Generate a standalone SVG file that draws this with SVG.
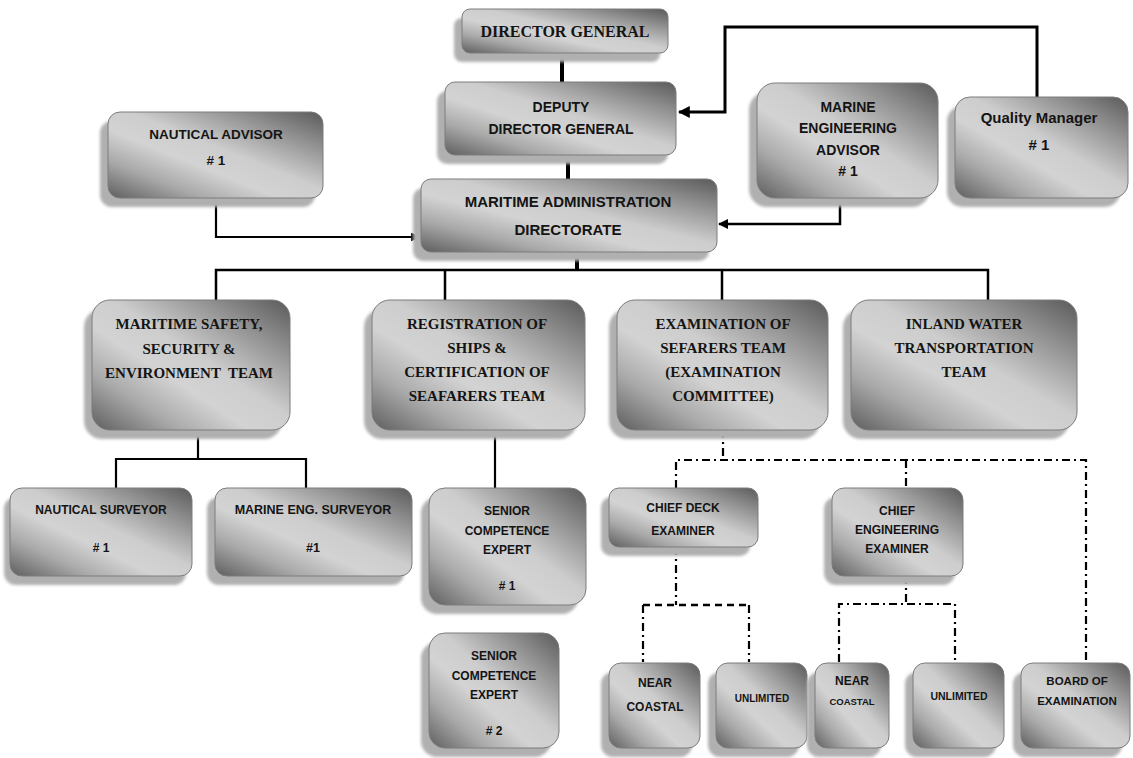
<svg xmlns="http://www.w3.org/2000/svg" width="1133" height="758" viewBox="0 0 1133 758">
<defs>
<linearGradient id="g" x1="1" y1="0" x2="0" y2="1">
<stop offset="0" stop-color="#5a5a5a"/>
<stop offset="0.2" stop-color="#8e8e8e"/>
<stop offset="0.45" stop-color="#cdcdcd"/>
<stop offset="0.6" stop-color="#d3d3d3"/>
<stop offset="0.78" stop-color="#a9a9a9"/>
<stop offset="1" stop-color="#5e5e5e"/>
</linearGradient>
<filter id="blur" x="-10%" y="-10%" width="120%" height="120%"><feGaussianBlur stdDeviation="1.5"/></filter>
<marker id="arr" viewBox="0 0 10 10" refX="9" refY="5" markerWidth="4" markerHeight="4" orient="auto" markerUnits="strokeWidth"><path d="M0,0 L10,5 L0,10 z" fill="#000"/></marker>
<style>
.sh{fill:#b0b0b0;filter:url(#blur)}
.bx{fill:url(#g);stroke:#7c7c7c;stroke-width:1}
.s{font-family:"Liberation Serif",serif;font-weight:bold;font-size:15px;fill:#141414;text-anchor:middle}
.a{font-family:"Liberation Sans",Arial,sans-serif;font-weight:bold;fill:#141414;text-anchor:middle}
.ln{fill:none;stroke:#000;stroke-width:2.2}
.th{fill:none;stroke:#000;stroke-width:4}
.dd{fill:none;stroke:#000;stroke-width:2.2;stroke-dasharray:8 4 2 4}
.da{fill:none;stroke:#000;stroke-width:2.5;stroke-dasharray:7 5}
</style>
</defs>
<rect width="1133" height="758" fill="#fff"/>
<g id="connectors">
<path class="th" d="M562,53 V82"/>
<path class="th" d="M568,155 V179"/>
<path class="ln" style="stroke-width:3" d="M1037,97 V27 H725 V112 H679" marker-end="url(#arr)"/>
<path class="ln" d="M216,198 V237 H419" marker-end="url(#arr)"/>
<path class="ln" style="stroke-width:2.5" d="M840,198 V224 H719" marker-end="url(#arr)"/>
<path class="th" d="M577,252 V270"/>
<path class="ln" style="stroke-width:2.5" d="M216,300 V270 H988 V300 M445,270 V300 M722,270 V300"/>
<path class="ln" d="M198,430 V459 M116,488 V459 H306 V488"/>
<path class="ln" d="M495,430 V488"/>
<path class="dd" d="M723,430 V460"/>
<path class="dd" d="M676,488 V460 H1086 V662"/>
<path class="dd" d="M906,460 V488"/>
<path class="dd" d="M676,547 V605"/>
<path class="da" d="M643,605 H749"/>
<path class="dd" d="M643,605 V662 M749,605 V662"/>
<path class="dd" d="M906,576 V604"/>
<path class="dd" d="M839,662 V604 H955 V662"/>
</g>
<g id="director-general">
<rect class="sh" x="454" y="18" width="206" height="44" rx="8"/>
<rect class="bx" x="462" y="9" width="206" height="44" rx="8"/>
<text class="s" style="font-size:16px" x="565" y="37">DIRECTOR GENERAL</text>
</g>
<g id="deputy-director-general">
<rect class="sh" x="437" y="91" width="231" height="73" rx="10"/>
<rect class="bx" x="445" y="82" width="231" height="73" rx="10"/>
<text class="a" style="font-size:14px" x="561" y="112">DEPUTY</text>
<text class="a" style="font-size:14px" x="561" y="134">DIRECTOR GENERAL</text>
</g>
<g id="nautical-advisor">
<rect class="sh" x="100" y="121" width="215" height="86" rx="12"/>
<rect class="bx" x="108" y="112" width="215" height="86" rx="12"/>
<text class="a" style="font-size:13.5px" x="216" y="139">NAUTICAL ADVISOR</text>
<text class="a" style="font-size:13.5px" x="216" y="165"># 1</text>
</g>
<g id="maritime-administration-directorate">
<rect class="sh" x="413" y="188" width="296" height="73" rx="10"/>
<rect class="bx" x="421" y="179" width="296" height="73" rx="10"/>
<text class="a" style="font-size:15px" x="568" y="207">MARITIME ADMINISTRATION</text>
<text class="a" style="font-size:15px" x="568" y="235">DIRECTORATE</text>
</g>
<g id="marine-engineering-advisor">
<rect class="sh" x="749" y="92" width="181" height="115" rx="18"/>
<rect class="bx" x="757" y="83" width="181" height="115" rx="18"/>
<text class="a" style="font-size:14px" x="848" y="112">MARINE</text>
<text class="a" style="font-size:14px" x="848" y="133">ENGINEERING</text>
<text class="a" style="font-size:14px" x="848" y="155">ADVISOR</text>
<text class="a" style="font-size:14px" x="848" y="176"># 1</text>
</g>
<g id="quality-manager">
<rect class="sh" x="947" y="106" width="173" height="101" rx="15"/>
<rect class="bx" x="955" y="97" width="173" height="101" rx="15"/>
<text class="a" style="font-size:15px" x="1039" y="123">Quality Manager</text>
<text class="a" style="font-size:15px" x="1039" y="150"># 1</text>
</g>
<g id="maritime-safety-team">
<rect class="sh" x="84" y="309" width="198" height="130" rx="18"/>
<rect class="bx" x="92" y="300" width="198" height="130" rx="18"/>
<text class="s" x="189" y="329">MARITIME SAFETY,</text>
<text class="s" x="189" y="354">SECURITY &amp;</text>
<text class="s" x="189" y="378" style="white-space:pre">ENVIRONMENT  TEAM</text>
</g>
<g id="registration-team">
<rect class="sh" x="364" y="309" width="213" height="130" rx="18"/>
<rect class="bx" x="372" y="300" width="213" height="130" rx="18"/>
<text class="s" x="477" y="329">REGISTRATION OF</text>
<text class="s" x="477" y="353">SHIPS &amp;</text>
<text class="s" x="477" y="377">CERTIFICATION OF</text>
<text class="s" x="477" y="401">SEAFARERS TEAM</text>
</g>
<g id="examination-team">
<rect class="sh" x="609" y="309" width="211" height="130" rx="18"/>
<rect class="bx" x="617" y="300" width="211" height="130" rx="18"/>
<text class="s" x="723" y="329">EXAMINATION OF</text>
<text class="s" x="723" y="353">SEFARERS TEAM</text>
<text class="s" x="723" y="377">(EXAMINATION</text>
<text class="s" x="723" y="401">COMMITTEE)</text>
</g>
<g id="inland-water-team">
<rect class="sh" x="843" y="309" width="226" height="130" rx="18"/>
<rect class="bx" x="851" y="300" width="226" height="130" rx="18"/>
<text class="s" x="964" y="329">INLAND WATER</text>
<text class="s" x="964" y="353">TRANSPORTATION</text>
<text class="s" x="964" y="377">TEAM</text>
</g>
<g id="nautical-surveyor">
<rect class="sh" x="4" y="497" width="182" height="88" rx="12"/>
<rect class="bx" x="10" y="488" width="182" height="88" rx="12"/>
<text class="a" style="font-size:12px" x="101" y="514">NAUTICAL SURVEYOR</text>
<text class="a" style="font-size:12px" x="101" y="552"># 1</text>
</g>
<g id="marine-eng-surveyor">
<rect class="sh" x="207" y="497" width="197" height="88" rx="12"/>
<rect class="bx" x="215" y="488" width="197" height="88" rx="12"/>
<text class="a" style="font-size:12.5px" x="313" y="514">MARINE ENG. SURVEYOR</text>
<text class="a" style="font-size:12.5px" x="313" y="552">#1</text>
</g>
<g id="senior-competence-expert-1">
<rect class="sh" x="421" y="497" width="157" height="117" rx="16"/>
<rect class="bx" x="429" y="488" width="157" height="117" rx="16"/>
<text class="a" style="font-size:12px" x="507" y="515">SENIOR</text>
<text class="a" style="font-size:12px" x="507" y="535">COMPETENCE</text>
<text class="a" style="font-size:12px" x="507" y="554">EXPERT</text>
<text class="a" style="font-size:12px" x="507" y="590"># 1</text>
</g>
<g id="chief-deck-examiner">
<rect class="sh" x="601" y="497" width="149" height="59" rx="10"/>
<rect class="bx" x="609" y="488" width="149" height="59" rx="10"/>
<text class="a" style="font-size:12px" x="683" y="512">CHIEF DECK</text>
<text class="a" style="font-size:12px" x="683" y="535">EXAMINER</text>
</g>
<g id="chief-engineering-examiner">
<rect class="sh" x="824" y="497" width="131" height="88" rx="12"/>
<rect class="bx" x="832" y="488" width="131" height="88" rx="12"/>
<text class="a" style="font-size:12px" x="897" y="515">CHIEF</text>
<text class="a" style="font-size:12px" x="897" y="534">ENGINEERING</text>
<text class="a" style="font-size:12px" x="897" y="553">EXAMINER</text>
</g>
<g id="senior-competence-expert-2">
<rect class="sh" x="421" y="642" width="130" height="115" rx="16"/>
<rect class="bx" x="429" y="633" width="130" height="115" rx="16"/>
<text class="a" style="font-size:12px" x="494" y="660">SENIOR</text>
<text class="a" style="font-size:12px" x="494" y="680">COMPETENCE</text>
<text class="a" style="font-size:12px" x="494" y="699">EXPERT</text>
<text class="a" style="font-size:12px" x="494" y="735"># 2</text>
</g>
<g id="near-coastal-1">
<rect class="sh" x="601" y="672" width="91" height="85" rx="12"/>
<rect class="bx" x="609" y="663" width="91" height="85" rx="12"/>
<text class="a" style="font-size:12px" x="655" y="687">NEAR</text>
<text class="a" style="font-size:12px" x="655" y="711">COASTAL</text>
</g>
<g id="unlimited-1">
<rect class="sh" x="708" y="672" width="91" height="85" rx="12"/>
<rect class="bx" x="716" y="663" width="91" height="85" rx="12"/>
<text class="a" style="font-size:10px" x="762" y="702">UNLIMITED</text>
</g>
<g id="near-coastal-2">
<rect class="sh" x="807" y="672" width="74" height="85" rx="12"/>
<rect class="bx" x="815" y="663" width="74" height="85" rx="12"/>
<text class="a" style="font-size:12px" x="852" y="685">NEAR</text>
<text class="a" style="font-size:9.5px" x="852" y="705">COASTAL</text>
</g>
<g id="unlimited-2">
<rect class="sh" x="905" y="672" width="91" height="85" rx="12"/>
<rect class="bx" x="913" y="663" width="91" height="85" rx="12"/>
<text class="a" style="font-size:10.5px" x="959" y="700">UNLIMITED</text>
</g>
<g id="board-of-examination">
<rect class="sh" x="1013" y="672" width="109" height="85" rx="12"/>
<rect class="bx" x="1021" y="663" width="109" height="85" rx="12"/>
<text class="a" style="font-size:11.5px" x="1077" y="685">BOARD OF</text>
<text class="a" style="font-size:11.5px" x="1077" y="705">EXAMINATION</text>
</g>
</svg>
